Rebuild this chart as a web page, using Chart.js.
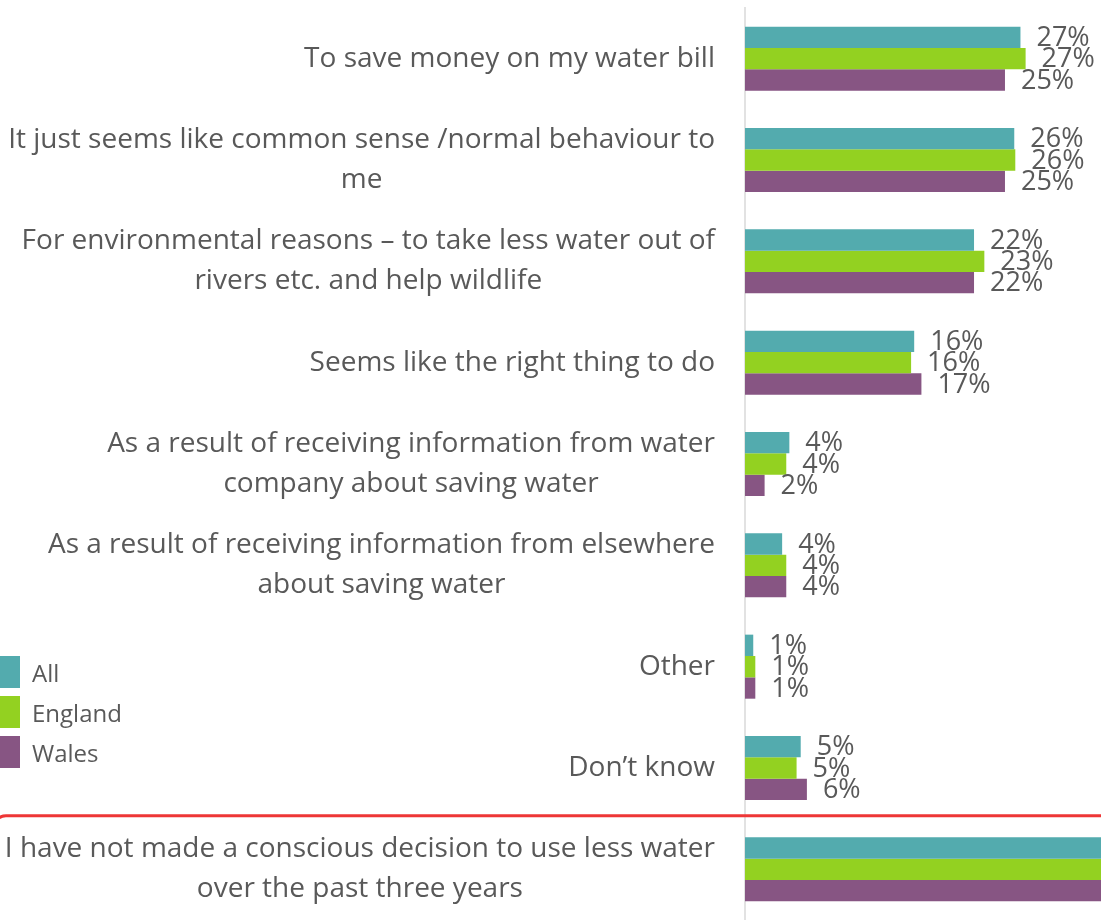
<!DOCTYPE html>
<html>
<head>
<meta charset="utf-8">
<script src="https://cdn.jsdelivr.net/npm/chart.js@4/dist/chart.umd.min.js"></script>
<style>
  html, body { margin: 0; padding: 0; background: #fff; overflow: hidden; }
  #wrap { position: relative; width: 1101px; height: 920px; overflow: hidden; }
  #chart { position: absolute; left: 0; top: 0; }
  #legend { position: absolute; left: -12px; top: 656px; font-family: 'Open Sans', sans-serif; font-size: 24px; color: #595959; }
  #legend .item { display: flex; align-items: center; height: 32px; margin-bottom: 8px; }
  #legend .box { width: 32px; height: 32px; margin-right: 12px; }
</style>
</head>
<body>
<div id="wrap">
  <canvas id="chart" width="1400" height="920"></canvas>
  <div id="legend"></div>
</div>
<script>
const categories = [
  ['To save money on my water bill'],
  ['It just seems like common sense /normal behaviour to', 'me'],
  ['For environmental reasons \u2013 to take less water out of', 'rivers etc. and help wildlife'],
  ['Seems like the right thing to do'],
  ['As a result of receiving information from water', 'company about saving water'],
  ['As a result of receiving information from elsewhere', 'about saving water'],
  ['Other'],
  ['Don\u2019t know'],
  ['I have not made a conscious decision to use less water', 'over the past three years']
];

const seriesNames = ['All', 'England', 'Wales'];
const seriesColors = ['#53abae', '#93d121', '#875583'];

const allValues     = [26.7, 26.1, 22.2, 16.4, 4.3, 3.6, 0.8, 5.4, 43];
const englandValues = [27.2, 26.2, 23.2, 16.1, 4.0, 4.0, 1.0, 5.0, 43];
const walesValues   = [25.2, 25.2, 22.2, 17.1, 1.9, 4.0, 1.0, 6.0, 44];

const TEXT = '#595959';
const FONT = "'Open Sans', sans-serif";

// category labels: block right-aligned to the axis, lines centred inside the block
const categoryLabels = {
  id: 'categoryLabels',
  afterDraw(chart) {
    const ctx = chart.ctx;
    const y = chart.scales.y;
    const right = chart.chartArea.left - 30;
    ctx.save();
    ctx.font = '28px ' + FONT;
    ctx.fillStyle = TEXT;
    ctx.textAlign = 'center';
    ctx.textBaseline = 'middle';
    chart.data.labels.forEach((lines, i) => {
      const w = Math.max(...lines.map(l => ctx.measureText(l).width));
      const cx = right - w / 2;
      const cy = y.getPixelForValue(i);
      lines.forEach((l, j) => {
        ctx.fillText(l, cx, cy + (j - (lines.length - 1) / 2) * 40);
      });
    });
    ctx.restore();
  }
};

// percentage labels at the end of each bar
const valueLabels = {
  id: 'valueLabels',
  afterDatasetsDraw(chart) {
    const ctx = chart.ctx;
    ctx.save();
    ctx.font = '27px ' + FONT;
    ctx.fillStyle = TEXT;
    ctx.textAlign = 'left';
    ctx.textBaseline = 'middle';
    chart.data.datasets.forEach((ds, di) => {
      chart.getDatasetMeta(di).data.forEach((bar, i) => {
        ctx.fillText(Math.round(ds.data[i]) + '%', bar.x + 16, bar.y + 1);
      });
    });
    ctx.restore();
  }
};

// red outline around the last group
const highlightBox = {
  id: 'highlightBox',
  afterDraw(chart) {
    const ctx = chart.ctx;
    const y = chart.scales.y;
    const n = chart.data.labels.length;
    const step = (chart.chartArea.bottom - chart.chartArea.top) / n;
    const top = y.getPixelForValue(n - 1) - step / 2 - 3;
    ctx.save();
    ctx.strokeStyle = '#ee3636';
    ctx.lineWidth = 3;
    ctx.beginPath();
    ctx.roundRect(-6, top, chart.width + 20, 200, 12);
    ctx.stroke();
    ctx.restore();
  }
};

const chart = new Chart(document.getElementById('chart'), {
  type: 'bar',
  data: {
    labels: categories,
    datasets: [
      { label: seriesNames[0], data: allValues, backgroundColor: seriesColors[0] },
      { label: seriesNames[1], data: englandValues, backgroundColor: seriesColors[1] },
      { label: seriesNames[2], data: walesValues, backgroundColor: seriesColors[2] }
    ]
  },
  options: {
    indexAxis: 'y',
    responsive: false,
    animation: false,
    layout: { padding: { top: 8, bottom: 0, right: 36, left: 0 } },
    datasets: {
      bar: { categoryPercentage: 0.632, barPercentage: 1, borderWidth: 0 }
    },
    scales: {
      x: { display: false, min: 0, max: 60 },
      y: {
        grid: { display: false },
        ticks: { display: false },
        border: { display: true, color: '#e2e2e2', width: 2 },
        afterFit(scale) { scale.width = 745; }
      }
    },
    plugins: {
      legend: { display: false },
      tooltip: { enabled: false }
    }
  },
  plugins: [categoryLabels, valueLabels, highlightBox]
});

// legend built from the datasets
const legend = document.getElementById('legend');
chart.data.datasets.forEach(ds => {
  const item = document.createElement('div');
  item.className = 'item';
  const box = document.createElement('span');
  box.className = 'box';
  box.style.background = ds.backgroundColor;
  const label = document.createElement('span');
  label.textContent = ds.label;
  item.appendChild(box);
  item.appendChild(label);
  legend.appendChild(item);
});
</script>
</body>
</html>
